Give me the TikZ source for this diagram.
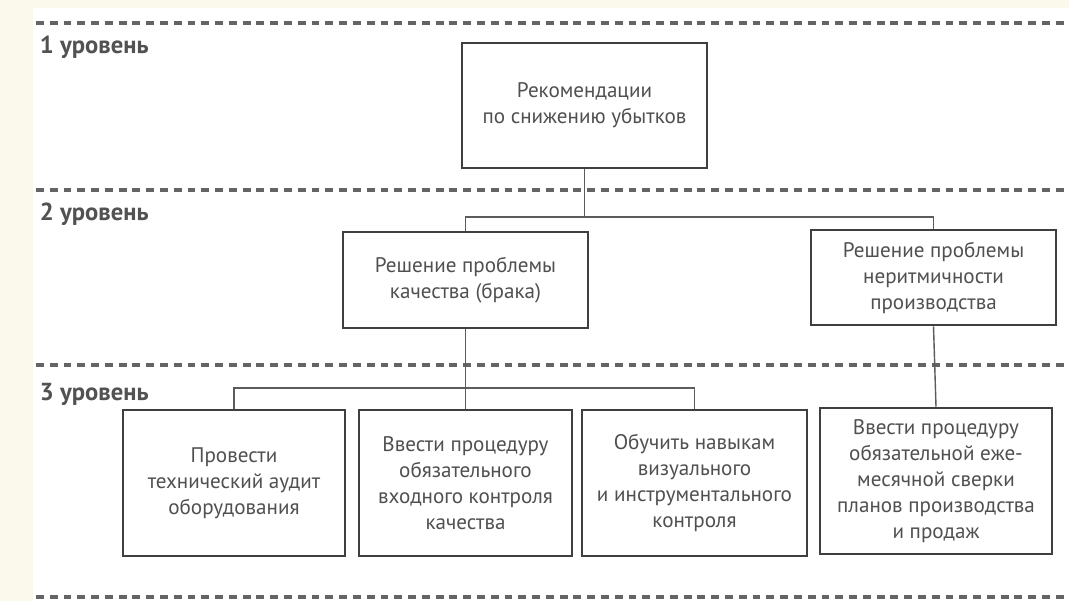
\documentclass[tikz,border=0pt]{standalone}
\usepackage{fontspec}
\setmainfont{PT Sans}
\usetikzlibrary{calc}
\definecolor{cream}{HTML}{FBF8EC}
\definecolor{boxcol}{HTML}{3F3F3F}
\definecolor{txtcol}{HTML}{505050}
\definecolor{dashcol}{HTML}{646464}
\begin{document}
\begin{tikzpicture}[
	x=0.025cm, y=-0.025cm,
	blk/.style 2 args = {draw=boxcol, line width=1.8pt, minimum width=#1*0.025cm,
		minimum height=#2*0.025cm, inner sep=0pt, align=center, text=txtcol,
		font=\fontsize{15}{18.5}\selectfont},
	lvl/.style = {anchor=west, text=boxcol!90, font=\fontsize{17.5}{20}\selectfont\bfseries},
	sep/.style = {dashcol, line width=3pt, dash pattern=on 5.6pt off 4.2pt},
	link/.style = {boxcol!85, line width=1pt}]

	\useasboundingbox (0,0) rectangle (1069,601);
	\fill[white] (0,0) rectangle (1069,601);
	\fill[cream] (0,0) rectangle (1069,8);
	\fill[cream] (0,0) rectangle (33,601);

	% level separators
	\foreach \y in {23,190,365,597}
	{
		\draw[sep] (36,\y) -- (1069,\y);
	}

	\node[lvl] (lv1) at (35,47) {1 уровень};
	\node[lvl] (lv2) at (35,214) {2 уровень};
	\node[lvl] (lv3) at (35,394) {3 уровень};

	\node[blk={245}{125}] (top) at (584.5,105.5) {Рекомендации\\по снижению убытков};

	\node[blk={245}{96}] (l2a) at (465.5,280) {Решение проблемы\\качества (брака)};
	\node[blk={245}{95}] (l2b) at (933.5,277.5) {Решение проблемы\\неритмичности\\производства};

	\node[blk={222}{146}] (l3a) at (234,483) {Провести\\технический аудит\\оборудования};
	\node[blk={213}{146}] (l3b) at (465.5,483) {Ввести процедуру\\обязательного\\входного контроля\\качества};
	\node[blk={225}{146}] (l3c) at (694.5,483) {Обучить навыкам\\визуального\\и инструментального\\контроля};
	\node[blk={232}{146}] (l3d) at (936,481) {Ввести процедуру\\обязательной еже-\\месячной сверки\\планов производства\\и продаж};

	\coordinate (j1) at (584.5,217);
	\coordinate (j2) at (465.5,388);

	\draw[link] (top.south) -- (top.south |- j1);
	\draw[link] (l2a.north) |- (l2b.north |- j1) -- (l2b.north);
	\draw[link] (l2a.south) -- (l3b.north);
	\draw[link] (l3a.north) |- (l3c.north |- j2) -- (l3c.north);
	\draw[link] (l2b.south) -- (l3d.north);
\end{tikzpicture}
\end{document}
